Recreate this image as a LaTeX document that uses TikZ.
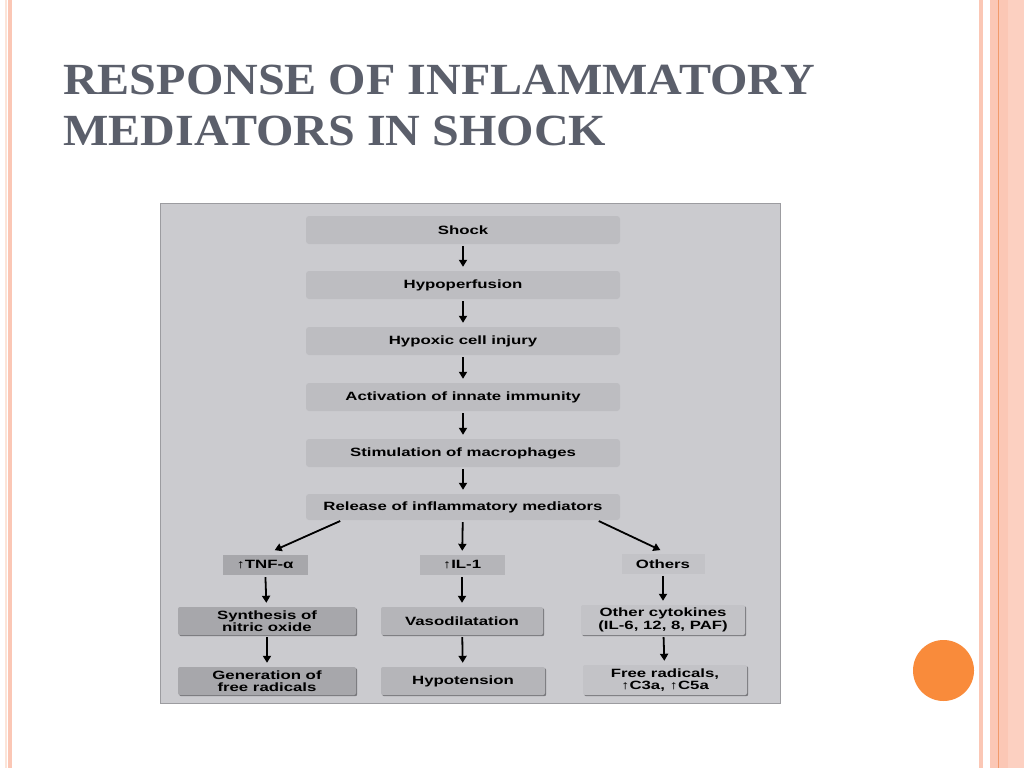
\documentclass[tikz,border=0pt]{standalone}
\usepackage{fontspec}
\setmainfont{Liberation Serif}
\newfontfamily\diagfont[FakeStretch=1.4]{Liberation Sans}
\newfontfamily\titlefont[FakeStretch=1.08]{Liberation Serif}
\usetikzlibrary{arrows.meta,shadows}

\definecolor{slidetitle}{HTML}{5B5F6B}
\definecolor{palerose}{HTML}{FCE4D8}
\definecolor{rose}{HTML}{FBC7B5}
\definecolor{lightrose}{HTML}{FCD0C1}
\definecolor{coral}{HTML}{F19A6B}
\definecolor{dotorange}{HTML}{F98B3B}
\definecolor{panel}{HTML}{CBCBCF}
\definecolor{panelline}{HTML}{9C9CA0}
\definecolor{mainbox}{HTML}{BDBDC1}
\definecolor{darkbox}{HTML}{A7A7AB}
\definecolor{midbox}{HTML}{B5B5B9}
\definecolor{lightbox}{HTML}{C3C3C7}
\definecolor{edgegray}{HTML}{78787C}

\begin{document}
\begin{tikzpicture}[x=1pt,y=-1pt]

      \useasboundingbox (0,0) rectangle (1024,768);
      \fill[white] (0,0) rectangle (1024,768);

      % slide frame
      \fill[palerose] (5,0) rectangle (7,768);
      \fill[rose] (8,0) rectangle (12,768);
      \fill[rose] (979,0) rectangle (983,768);
      \fill[rose] (990,0) rectangle (1024,768);
      \fill[lightrose] (1008,0) rectangle (1024,768);
      \draw[coral,line width=1.5pt] (998.5,0) -- (998.5,768);
      \fill[dotorange] (943.5,670.5) circle (30.5);

      \begin{scope}[every node/.style={anchor=base west,inner sep=0pt,text=slidetitle,
          font=\titlefont\bfseries\fontsize{44.5}{51}\selectfont}]
        \node (title1) at (63,94)  {RESPONSE OF INFLAMMATORY};
        \node (title2) at (63,145) {MEDIATORS IN SHOCK};
      \end{scope}

      \filldraw[fill=panel,draw=panelline,line width=1pt] (160,203) rectangle (780,703);

      \begin{scope}[every node/.style={rectangle,inner sep=0pt,align=center,
          font=\diagfont\bfseries\fontsize{12}{12.5}\selectfont}]
        \begin{scope}[every node/.append style={rounded corners=3pt,fill=mainbox,
            minimum width=314pt,minimum height=28pt}]
          \node (shock)   at (463,230) {Shock};
          \node (hypo)    at (463,285) {Hypoperfusion};
          \node (hypox)   at (463,341) {Hypoxic cell injury};
          \node (activ)   at (463,397) {Activation of innate immunity};
          \node (stim)    at (463,453) {Stimulation of macrophages};
          \node (release) at (463,507) [minimum height=26pt] {Release of inflammatory mediators};
        \end{scope}

        \begin{scope}[every node/.append style={minimum height=20pt}]
          \node (tnf)    at (265,565) [fill=darkbox,minimum width=85pt]  {↑TNF-α};
          \node (il)     at (462,565) [fill=midbox,minimum width=85pt]   {↑IL-1};
          \node (others) at (663,564) [fill=lightbox,minimum width=83pt] {Others};
        \end{scope}

        \begin{scope}[every node/.append style={rounded corners=2pt,minimum height=28pt,
            drop shadow={shadow xshift=1.2pt,shadow yshift=-1.2pt,fill=edgegray,opacity=1}}]
          \node (synth) at (267,621) [fill=darkbox,minimum width=178pt]  {Synthesis of\\nitric oxide};
          \node (vaso)  at (462,621) [fill=midbox,minimum width=162pt]   {Vasodilatation};
          \node (cyto)  at (663,620) [fill=lightbox,minimum width=164pt,minimum height=30pt,
            drop shadow={opacity=0}] {Other cytokines\\(IL-6, 12, 8, PAF)};
          \node (gen)   at (267,681) [fill=darkbox,minimum width=178pt]  {Generation of\\free radicals};
          \node (hypot) at (463,681) [fill=midbox,minimum width=164pt]   {Hypotension};
          \node (free)  at (665,680) [fill=lightbox,minimum width=164pt,minimum height=30pt]
            {Free radicals,\\↑C3a, ↑C5a};
        \end{scope}
      \end{scope}

      \begin{scope}[every edge/.style={draw,line width=1.8pt,
          -{Triangle[length=7pt,width=8pt]},shorten <=2pt,shorten >=4pt}]
        \path (shock) edge (hypo);
        \path (hypo)  edge (hypox);
        \path (hypox) edge (activ);
        \path (activ) edge (stim);
        \path (stim)  edge (release);
        \path ([xshift=-121pt]release.south) edge ([xshift=6pt,yshift=3pt]tnf.north);
        \path (release) edge (il);
        \path ([xshift=134pt]release.south) edge ([xshift=1pt,yshift=2pt]others.north);
        \path (tnf)    edge (synth);
        \path (synth)  edge (gen);
        \path (il)     edge (vaso);
        \path (vaso)   edge (hypot);
        \path (others) edge (cyto);
        \path (cyto)   edge (free);
      \end{scope}

    \end{tikzpicture}
\end{document}
